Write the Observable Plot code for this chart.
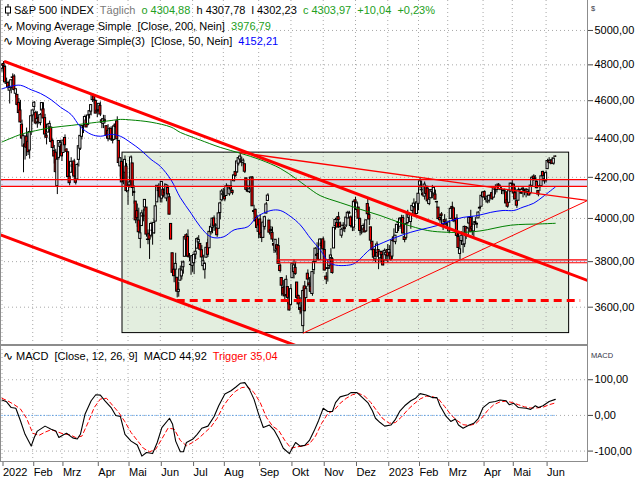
<!DOCTYPE html>
<html>
<head>
<meta charset="utf-8">
<script src="https://cdn.jsdelivr.net/npm/d3@7"></script>
<script src="https://cdn.jsdelivr.net/npm/@observablehq/plot@0.6"></script>
<style>
  body { margin: 0; background: #fff; }
  #wrap { position: relative; width: 640px; height: 480px; overflow: hidden; font-family: "Liberation Sans", Arial, sans-serif; font-size: 11px; }
  #wrap svg { position: absolute; left: 0; }
  .hdr { position: absolute; left: 0; white-space: pre; line-height: 13px; color: #000; }
  .ico { display: inline-block; width: 16px; text-align: center; font-family: "DejaVu Sans", sans-serif; font-size: 12px; }
  .frame { position: absolute; box-sizing: border-box; border-color: #8c8c8c; border-style: solid; pointer-events: none; }
  .unit { position: absolute; font-size: 7.5px; color: #334; }
</style>
</head>
<body>
<div id="wrap"></div>
<script>
// ---------- data ----------
const monthLabels = ["2022","Feb","Mrz","Apr","Mai","Jun","Jul","Aug","Sep","Okt","Nov","Dez","2023","Feb","Mrz","Apr","Mai","Jun"];
const monthStarts = [0,20,39,62,82,103,124,144,167,188,209,230,251,271,290,313,332,354];
const priceTicks = [3600,3800,4000,4200,4400,4600,4800,5000];
const macdTicks = [-100,0,100];

const opens = [4778,4805,4788,4693,4698,4655,4669,4729,4734,4638,4632,4588,4547,4471,4356,4367,4408,4381,4336,4432,
4520,4566,4535,4483,4506,4480,4547,4553,4506,4413,4429,4456,4456,4385,4333,4325,4156,4298,4354,
4363,4323,4401,4342,4327,4203,4223,4253,4280,4203,4189,4288,4345,4407,4462,4469,4493,4470,4523,4541,4603,4624,4599,
4540,4548,4572,4494,4475,4494,4463,4438,4394,4449,4386,4391,4472,4489,4386,4255,4278,4187,4223,4254,
4131,4160,4181,4270,4128,4081,4035,3990,3904,3964,4013,4052,4052,3899,3928,3919,3943,3930,3985,4077,4151,
4150,4095,4138,4135,4096,4147,4102,3974,3838,3764,3764,3728,3666,3715,3734,3775,3822,3921,3913,3825,3786,
3781,3793,3832,3859,3888,3881,3852,3780,3764,3818,3884,3861,3935,3955,4000,3966,3953,3951,4026,4087,
4112,4104,4108,4155,4116,4156,4133,4181,4227,4225,4269,4290,4280,4273,4266,4195,4133,4127,4153,4199,4035,4041,4001,
3937,3995,3931,3909,3960,4023,4084,3990,3941,3932,3881,3850,3875,3871,3782,3727,3683,3686,3652,3687,3633,
3610,3726,3753,3772,3707,3648,3596,3591,3520,3690,3639,3746,3703,3689,3657,3762,3799,3826,3835,3808,3882,
3902,3853,3733,3767,3781,3817,3811,3860,3964,3978,4006,3977,3919,3966,3956,3966,4000,4023,4005,3964,3957,
4087,4040,4052,3997,3933,3948,3954,3939,4069,4016,3958,3891,3854,3810,3839,3853,3815,3843,3830,3805,3829,
3853,3840,3840,3823,3911,3889,3932,3978,3961,3999,4002,3912,3909,3978,4002,3983,4036,4054,4049,4021,
4070,4159,4137,4120,4105,4153,4144,4069,4097,4127,4120,4115,4077,4052,4002,4019,3973,3992,3977,
3963,3939,3998,4055,4048,3988,3999,3913,3835,3894,3877,3879,3959,3917,3976,4002,3959,3939,3983,3974,4000,4047,4056,
4102,4128,4095,4081,4085,4110,4122,4100,4140,4137,4164,4139,4130,4132,4132,4126,4088,4075,4130,
4167,4164,4122,4083,4085,4137,4124,4144,4132,4139,4127,4128,4123,4158,4204,4191,4177,4133,4156,4156,4227,4191,
4183,4241,4283,4272,4285,4269,4305];
const highs = [4797,4819,4798,4725,4708,4673,4714,4749,4744,4665,4632,4612,4602,4495,4417,4411,4453,4429,4433,4517,
4550,4595,4543,4540,4522,4531,4590,4589,4526,4426,4473,4490,4456,4395,4362,4342,4295,4385,4389,
4378,4401,4417,4342,4327,4277,4299,4268,4291,4248,4271,4359,4413,4465,4482,4522,4501,4521,4546,4576,4637,4628,4603,
4549,4584,4593,4504,4521,4520,4464,4471,4454,4460,4410,4471,4488,4513,4386,4299,4278,4241,4308,4270,
4170,4200,4308,4270,4158,4081,4069,4049,3965,4039,4046,4091,4052,3946,3943,3982,3956,3999,4075,4158,4168,
4167,4178,4143,4169,4165,4160,4119,3974,3838,3778,3838,3728,3708,3780,3802,3803,3914,3928,3946,3837,3819,
3830,3832,3871,3911,3919,3881,3873,3829,3796,3864,3902,3940,3974,3999,4012,3975,3953,4040,4079,4140,
4145,4140,4168,4161,4152,4187,4137,4211,4258,4280,4302,4325,4302,4293,4266,4195,4160,4157,4201,4203,4063,4045,4015,
3970,4018,3943,3988,4011,4077,4119,3990,3962,3959,3881,3900,3876,3907,3790,3727,3716,3718,3737,3687,3671,
3698,3792,3807,3798,3707,3652,3641,3608,3685,3712,3690,3763,3729,3736,3758,3811,3863,3886,3860,3905,3894,
3912,3894,3751,3796,3814,3859,3818,3958,4001,4009,4029,3983,3954,3980,3962,4006,4034,4034,4012,3977,4080,
4101,4080,4052,4002,3958,3974,3977,3991,4101,4054,3958,3891,3855,3838,3890,3853,3846,3847,3848,3858,3840,
3878,3873,3840,3906,3951,3920,3970,3998,4004,4015,4014,3923,3973,4039,4024,4020,4062,4094,4064,4077,
4149,4195,4182,4125,4177,4157,4156,4094,4139,4160,4148,4137,4082,4052,4017,4028,3978,4018,3998,
3972,3991,4048,4078,4050,4000,4018,3934,3905,3937,3894,3964,3959,3957,4009,4039,4008,3973,4004,3979,4031,4058,4111,
4128,4133,4100,4107,4110,4124,4134,4150,4163,4152,4169,4163,4149,4138,4142,4126,4090,4138,4170,
4187,4164,4148,4083,4147,4142,4130,4154,4133,4144,4141,4136,4165,4202,4213,4209,4186,4133,4166,4213,4231,4195,
4232,4291,4299,4288,4299,4298,4308];
const lows = [4758,4774,4699,4671,4663,4582,4638,4707,4650,4615,4569,4530,4478,4395,4223,4287,4305,4310,4292,4414,
4484,4544,4470,4452,4471,4465,4547,4484,4401,4365,4429,4430,4374,4327,4267,4222,4115,4287,4315,
4280,4323,4346,4285,4200,4158,4223,4210,4200,4162,4188,4252,4336,4391,4424,4469,4456,4465,4501,4518,4590,4581,4530,
4508,4539,4514,4450,4450,4475,4408,4381,4393,4391,4370,4391,4449,4384,4268,4201,4175,4163,4189,4124,
4063,4147,4149,4106,4068,3975,3958,3929,3859,3964,3984,4034,3912,3877,3810,3909,3875,3925,3985,4077,4105,
4074,4074,4099,4109,4080,4107,4017,3900,3734,3706,3722,3640,3643,3715,3718,3744,3822,3890,3820,3799,3739,
3752,3742,3809,3859,3869,3847,3802,3759,3722,3817,3819,3861,3922,3928,3939,3943,3911,3951,3993,4079,
4096,4080,4108,4135,4107,4129,4112,4177,4201,4220,4257,4278,4253,4262,4219,4130,4124,4120,4148,4058,4017,3965,3955,
3904,3906,3887,3906,3945,4023,4084,3922,3913,3888,3837,3839,3828,3789,3749,3647,3645,3623,3641,3610,3584,
3605,3726,3723,3739,3621,3588,3568,3574,3492,3580,3639,3687,3667,3656,3647,3742,3799,3824,3804,3808,3863,
3844,3759,3698,3709,3765,3786,3744,3860,3945,3956,3953,3954,3907,3936,3933,3957,3999,4021,3956,3938,3939,
4051,4027,3984,3918,3923,3936,3933,3935,3993,3966,3879,3828,3800,3796,3839,3764,3797,3813,3781,3805,3800,
3794,3816,3802,3810,3890,3877,3929,3938,3948,3985,3927,3886,3898,3972,3990,3949,4013,4049,4016,4020,
4037,4142,4123,4104,4088,4112,4070,4061,4093,4095,4104,4090,4048,3995,3977,3969,3943,3974,3969,
3939,3928,3995,4045,3980,3970,3909,3846,3809,3874,3838,3864,3901,3917,3971,3936,3919,3909,3970,3952,4000,4032,4056,
4099,4087,4073,4070,4073,4103,4087,4099,4113,4123,4140,4134,4115,4114,4118,4071,4049,4075,4127,
4164,4090,4089,4048,4085,4124,4117,4099,4109,4099,4110,4110,4114,4154,4180,4180,4143,4104,4130,4156,4192,4166,
4172,4241,4267,4263,4264,4261,4302];
const closes = [4797,4794,4701,4696,4677,4670,4713,4726,4659,4663,4577,4533,4483,4398,4410,4356,4350,4327,4432,4516,
4547,4589,4477,4501,4484,4522,4587,4504,4419,4402,4471,4475,4380,4349,4305,4226,4289,4385,4374,
4306,4387,4363,4329,4201,4171,4278,4260,4204,4173,4262,4358,4412,4463,4461,4512,4456,4520,4543,4576,4632,4602,4530,
4546,4583,4525,4481,4500,4488,4413,4397,4447,4393,4392,4462,4459,4394,4272,4296,4175,4184,4288,4132,
4155,4175,4300,4147,4123,3991,4001,3935,3930,4024,4008,4089,3924,3901,3901,3974,3941,3979,4058,4158,4132,
4101,4177,4109,4121,4161,4116,4018,3901,3750,3735,3790,3667,3675,3765,3760,3796,3912,3900,3822,3819,3785,
3825,3831,3845,3903,3899,3854,3819,3802,3790,3863,3831,3937,3960,3999,3962,3967,3921,4024,4072,4130,
4119,4091,4155,4152,4145,4140,4122,4210,4207,4280,4297,4305,4274,4284,4228,4138,4129,4141,4199,4058,4031,3986,3955,
3967,3924,3908,3980,4006,4067,4110,3933,3946,3901,3873,3900,3856,3790,3758,3693,3655,3647,3719,3640,3586,
3678,3791,3783,3745,3640,3612,3589,3577,3670,3583,3678,3720,3695,3666,3753,3797,3859,3831,3807,3901,3872,
3856,3760,3720,3771,3807,3828,3749,3956,3993,3957,3992,3959,3947,3965,3950,4004,4027,4026,3964,3958,4080,
4077,4072,3999,3941,3934,3964,3934,3991,4020,3995,3896,3852,3818,3822,3878,3822,3845,3829,3783,3849,3840,
3824,3853,3808,3895,3892,3919,3970,3983,3999,3991,3929,3899,3973,4020,4017,4016,4060,4071,4018,4077,
4119,4180,4136,4111,4164,4118,4082,4090,4137,4136,4148,4090,4079,3997,3991,4012,3970,3982,3970,
3951,3981,4046,4048,3986,3992,3918,3862,3856,3919,3892,3960,3917,3952,4003,3937,3949,3971,3978,3971,4028,4051,4109,
4125,4101,4090,4105,4109,4109,4092,4146,4138,4151,4155,4155,4130,4134,4137,4072,4056,4135,4169,
4168,4120,4091,4061,4136,4138,4119,4138,4131,4124,4136,4110,4159,4198,4192,4193,4146,4115,4151,4205,4206,4180,
4221,4282,4274,4284,4268,4294,4304];

const sma200Idx = [0,12,19,32,45,58,71,77,84,97,110,116,123,129,142,155,168,181,191,199,207,220,233,246,261,277,289,298,311,331,350,360];
const sma200Val = [4380,4419,4434,4455,4467,4480,4493,4499,4496,4484,4458,4430,4408,4390,4352,4322,4289,4245,4195,4150,4110,4076,4044,4014,3975,3943,3935,3934,3941,3968,3974,3977];
const sma50Idx = [0,6,12,19,25,32,38,45,51,58,64,71,77,84,90,97,103,110,116,123,129,136,144,151,160,166,175,181,188,194,201,207,214,227,231,240,248,257,266,274,283,292,300,309,318,326,333,339,346,352,360];
const sma50Val = [4665,4680,4685,4660,4640,4605,4565,4525,4460,4420,4410,4420,4410,4375,4340,4290,4255,4187,4100,4025,3961,3913,3913,3946,3961,4008,4038,4038,4008,3970,3904,3854,3791,3786,3800,3859,3887,3913,3935,3950,3966,3989,4005,4013,4029,4038,4038,4054,4073,4105,4152];

const macdIdx = [0,3,6,9,12,15,19,21,23,28,32,35,37,40,42,46,49,51,54,58,61,64,67,71,74,77,80,84,88,91,94,98,101,104,109,111,113,116,118,120,124,127,130,134,138,141,145,149,152,155,158,161,164,167,170,174,177,180,183,187,191,194,197,200,203,206,209,212,215,217,220,225,227,231,234,238,241,243,246,249,253,256,259,262,266,269,272,276,280,283,285,289,292,295,297,300,304,307,310,313,317,321,324,328,330,333,336,341,344,347,349,352,356,360];
const macdVal = [43,38,22,20,-15,-53,-86,-62,-44,-30,-39,-44,-62,-54,-50,-63,-66,-53,3,41,58,57,41,22,0,-3,-53,-72,-83,-114,-104,-107,-76,-34,-8,-25,-72,-102,-102,-76,-67,-53,-36,-30,-3,27,60,69,79,90,92,73,45,3,-34,-27,-41,-64,-92,-107,-76,-86,-84,-70,-44,-14,20,11,11,36,52,58,64,64,52,36,13,-8,-20,-30,-27,-11,13,27,41,48,61,57,50,50,27,-3,-17,-10,-27,-36,-27,-22,-8,22,36,39,43,41,30,34,22,20,17,27,22,27,39,45];
const trigIdx = [0,4,8,12,16,20,24,28,32,36,40,44,48,52,56,60,64,68,72,76,80,84,88,92,96,100,104,108,112,116,120,124,128,132,136,140,144,148,152,156,160,164,168,172,176,180,184,188,192,196,200,204,208,212,216,220,224,228,232,236,240,244,248,252,256,260,264,268,272,276,280,284,288,292,296,300,304,308,312,316,320,324,328,332,336,340,344,348,352,356,360];
const trigVal = [48,40,30,18,-8,-50,-56,-47,-40,-46,-52,-54,-62,-58,-20,22,46,48,28,8,-18,-48,-70,-92,-102,-95,-66,-36,-38,-70,-85,-76,-64,-48,-32,-8,26,50,68,78,80,64,36,-5,-30,-42,-70,-92,-88,-86,-80,-58,-22,5,14,34,48,58,62,54,36,12,-10,-22,-20,-4,16,32,46,54,53,46,25,2,-14,-26,-28,-24,-8,14,30,38,40,36,30,24,21,21,23,30,35];

const upperTrendIdx = [2, 381], upperTrendVal = [4818, 3716];
const lowerTrendIdx = [-1, 200], lowerTrendVal = [3923, 3419];
const resistIdx = [155, 381], resistVal = [4325, 4086];
const riseIdx = [196, 381], riseVal = [3491, 4086];
const bandLevels = [4155, 4189];
const supportLevels = [3795, 3808];
const supportSpan = [179, 381];
const dashedLevel = [3629];
const dashedSpan = [114, 376.5];
const boxIdx = [78.4, 369];
const boxVal = [3491, 4325];

const lastQuote = [4304.88, 4307.78, 4302.23, 4303.97];
const lastChange = [10.04, 0.23];
const smaLast = [3976.79, 4152.21];
const macdLast = [44.92, 35.04];

// ---------- helpers ----------
const de = v => v.toFixed(2).replace(".", ",");
const xDomain = [-0.976, 380.95];
const yDomain = [3440, 5181];
const macdDomain = [-132, 196];
const pts = (I, V) => I.map((i, k) => ({i, v: V[k]}));
const candles = closes.map((c, i) => ({i, o: opens[i], h: highs[i], l: lows[i], c}));
const lastIdx = closes.length - 1;
const labelOf = new Map(monthStarts.map((m, k) => [m, monthLabels[k]]));
const gridStyle = {stroke: "#a8a8a8", strokeDasharray: "1,3", strokeWidth: 1};
const commonStyle = {fontFamily: "Liberation Sans, Arial, sans-serif", fontSize: "11px", background: "transparent", overflow: "visible"};

const wrap = document.getElementById("wrap");

// ---------- main price panel ----------
const main = Plot.plot({
  width: 640, height: 345,
  marginLeft: 0, marginRight: 53, marginTop: 0, marginBottom: 0,
  style: commonStyle,
  x: {type: "linear", domain: xDomain, axis: null, label: null},
  y: {type: "log", domain: yDomain, axis: null, label: null},
  color: {type: "identity"},
  marks: [
    Plot.rect([{x1: boxIdx[0], x2: boxIdx[1], lo: boxVal[0], hi: boxVal[1]}], {x1: "x1", x2: "x2", y1: "lo", y2: "hi", fill: "#e3eedf"}),
    Plot.ruleY(priceTicks, gridStyle),
    Plot.ruleX(monthStarts, gridStyle),
    Plot.rect([{x1: xDomain[0], x2: xDomain[1], lo: bandLevels[0], hi: bandLevels[1]},
               {x1: supportSpan[0], x2: supportSpan[1], lo: supportLevels[0], hi: supportLevels[1]}],
      {x1: "x1", x2: "x2", y1: "lo", y2: "hi", fill: "#0000c8", fillOpacity: 0.1, clip: true}),
    Plot.rect([{x1: boxIdx[0], x2: boxIdx[1], lo: boxVal[0], hi: boxVal[1]}], {x1: "x1", x2: "x2", y1: "lo", y2: "hi", fill: "none", stroke: "#000", strokeWidth: 1}),
    Plot.ruleX(candles, {x: "i", y1: "l", y2: "h", stroke: "#000", strokeWidth: 1}),
    Plot.rect(candles, {x1: d => d.i - 0.7, x2: d => d.i + 0.7, y1: "o", y2: "c",
      fill: d => d.c >= d.o ? "#ffffff" : "#ff0000", stroke: "#000", strokeWidth: 1}),
    Plot.line(pts(sma200Idx, sma200Val), {x: "i", y: "v", stroke: "#008000", strokeWidth: 1, curve: "catmull-rom"}),
    Plot.line(pts(sma50Idx, sma50Val), {x: "i", y: "v", stroke: "#0000ff", strokeWidth: 1, curve: "catmull-rom"}),
    Plot.line(pts(upperTrendIdx, upperTrendVal), {x: "i", y: "v", stroke: "#ff0000", strokeWidth: 3, clip: true}),
    Plot.line(pts(lowerTrendIdx, lowerTrendVal), {x: "i", y: "v", stroke: "#ff0000", strokeWidth: 3, clip: true}),
    Plot.line(pts(resistIdx, resistVal), {x: "i", y: "v", stroke: "#ff0000", strokeWidth: 1.3, clip: true}),
    Plot.line(pts(riseIdx, riseVal), {x: "i", y: "v", stroke: "#ff0000", strokeWidth: 1, clip: true}),
    Plot.ruleY(bandLevels, {stroke: "#ff0000", strokeWidth: 1.3}),
    Plot.ruleY(supportLevels.map(v => ({v})), {y: "v", x1: () => supportSpan[0], x2: () => supportSpan[1], stroke: "#ff0000", strokeWidth: 1.2, clip: true}),
    Plot.ruleY(dashedLevel.map(v => ({v})), {y: "v", x1: () => dashedSpan[0], x2: () => dashedSpan[1], stroke: "#ff0000", strokeWidth: 3, strokeDasharray: "8,5"}),
    Plot.axisY(priceTicks, {anchor: "right", label: null, tickSize: 5, tickPadding: 2, tickFormat: de, stroke: "#444", fill: "#000"})
  ]
});
main.style.top = "0px";
wrap.appendChild(main);

// ---------- MACD panel ----------
const macdPlot = Plot.plot({
  width: 640, height: 135,
  marginLeft: 0, marginRight: 53, marginTop: 0, marginBottom: 18,
  style: commonStyle,
  x: {type: "linear", domain: xDomain, axis: null, label: null},
  y: {type: "linear", domain: macdDomain, axis: null, label: null},
  marks: [
    Plot.ruleY(macdTicks, gridStyle),
    Plot.ruleX(monthStarts, gridStyle),
    Plot.ruleY([{v: 0}], {y: "v", x1: () => 0, x2: () => lastIdx, stroke: "#2a8cf0", strokeWidth: 1, strokeDasharray: "1,2"}),
    Plot.line(pts(trigIdx, trigVal), {x: "i", y: "v", stroke: "#ff0000", strokeWidth: 1, strokeDasharray: "4,3"}),
    Plot.line(pts(macdIdx, macdVal), {x: "i", y: "v", stroke: "#000", strokeWidth: 1.1}),
    Plot.axisY(macdTicks, {anchor: "right", label: null, tickSize: 5, tickPadding: 2, tickFormat: de, stroke: "#444", fill: "#000"}),
    Plot.axisX(monthStarts, {anchor: "bottom", label: null, tickSize: 4, tickPadding: 2, tickFormat: d => labelOf.get(d), textAnchor: "start", dx: 1, stroke: "#666", fill: "#000"})
  ]
});
macdPlot.style.top = "345px";
wrap.appendChild(macdPlot);

// ---------- frames ----------
function addDiv(cls, css, html) {
  const d = document.createElement("div");
  d.className = cls;
  d.style.cssText = css;
  if (html !== undefined) d.innerHTML = html;
  wrap.appendChild(d);
  return d;
}
addDiv("frame", "left:0;top:0;width:588px;height:346px;border-width:0 1px 2px 1px;");
addDiv("frame", "left:0;top:346px;width:588px;height:116px;border-width:0 1px 1px 1px;");
addDiv("unit", "left:591px;top:4px;", "$");
addDiv("unit", "left:591px;top:351px;", "MACD");

// ---------- header texts ----------
const candleIcon = '<svg width="10" height="12" style="position:static;vertical-align:-2px;margin:0 1px 0 2px"><line x1="5" y1="0" x2="5" y2="12" stroke="#000"/><rect x="2.5" y="3" width="5" height="6" fill="#fff" stroke="#000"/></svg>';
const green = "#22a022";
addDiv("hdr", "top:4px;left:1px;",
  candleIcon + 'S&amp;P 500 INDEX  <span style="color:#7a7a7a">Täglich</span>  ' +
  `<span style="color:${green}">o ${de(lastQuote[0])}</span>  h ${de(lastQuote[1])}  l ${de(lastQuote[2])}  ` +
  `<span style="color:${green}">c ${de(lastQuote[3])}  +${de(lastChange[0])}  +${de(lastChange[1])}%</span>`);
addDiv("hdr", "top:19.5px;",
  `<span class="ico">∿</span>Moving Average Simple  [Close, 200, Nein]  <span style="color:${green}">${de(smaLast[0])}</span>`);
addDiv("hdr", "top:34.5px;",
  `<span class="ico">∿</span>Moving Average Simple(3)  [Close, 50, Nein]  <span style="color:#0000ff">${de(smaLast[1])}</span>`);
addDiv("hdr", "top:350px;",
  `<span class="ico">∿</span>MACD  [Close, 12, 26, 9]  MACD ${de(macdLast[0])}  <span style="color:#ff0000">Trigger ${de(macdLast[1])}</span>`);
</script>
</body>
</html>
